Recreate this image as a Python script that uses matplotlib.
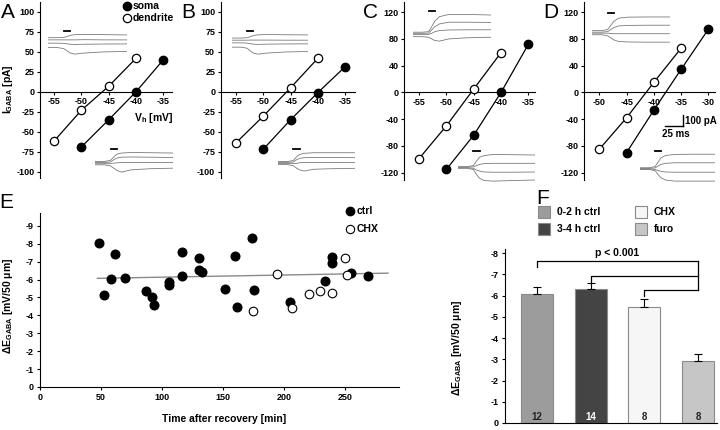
import matplotlib
matplotlib.use("Agg")
import matplotlib.pyplot as plt
from matplotlib.patches import Rectangle

plt.rcParams['font.family'] = ['Liberation Sans', 'DejaVu Sans']
plt.rcParams['font.weight'] = 'bold'
plt.rcParams['axes.unicode_minus'] = False
plt.rcParams['mathtext.default'] = 'regular'

W, H = 720, 430

# ---------------- I-V curves (A-D) ----------------
vh_dend_A = [-55, -50, -45, -40]
i_dend_A = [-61.5, -23, 7, 42]
vh_soma_A = [-50, -45, -40, -35]
i_soma_A = [-69, -35, 0, 40]

vh_dend_B = [-55, -50, -45, -40]
i_dend_B = [-64, -30.5, 5, 42]
vh_soma_B = [-50, -45, -40, -35]
i_soma_B = [-72, -35, -1, 31.5]

vh_dend_C = [-55, -50, -45, -40]
i_dend_C = [-99, -50, 5, 59.5]
vh_soma_C = [-50, -45, -40, -35]
i_soma_C = [-115, -64, 0, 72]

vh_dend_D = [-50, -45, -40, -35]
i_dend_D = [-85, -38, 15, 66]
vh_soma_D = [-45, -40, -35, -30]
i_soma_D = [-90, -26.5, 34.5, 94.5]

# example current traces (pA, arbitrary offset) at these time points (% of sweep)
t_trace = [0, 12, 20, 24, 28, 34, 46, 70, 100]
stim_t = [20, 28]
tr_A_top = [[90, 90, 92, 100, 110, 118, 120, 118, 115],
            [70, 70, 70, 70, 70, 70, 72, 70, 70],
            [40, 40, 38, 34, 30, 28, 30, 32, 33],
            [0, 0, -10, -30, -50, -60, -50, -40, -35]]
tr_A_bot = [[20, 20, 30, 60, 85, 95, 100, 98, 95],
            [10, 10, 15, 35, 50, 58, 60, 58, 55],
            [0, 0, 0, 5, 8, 10, 10, 10, 10],
            [-10, -10, -20, -40, -60, -75, -55, -45, -40]]
tr_B_top = [[85, 85, 88, 98, 108, 115, 118, 116, 114],
            [65, 65, 65, 66, 66, 66, 66, 65, 65],
            [40, 40, 38, 33, 28, 26, 28, 30, 31],
            [0, 0, -10, -35, -55, -65, -55, -45, -40]]
tr_B_bot = [[15, 15, 25, 55, 75, 85, 90, 90, 90],
            [8, 8, 12, 30, 42, 48, 50, 50, 48],
            [0, 0, -2, 0, 5, 8, 8, 8, 8],
            [-10, -10, -20, -40, -55, -65, -50, -45, -42]]
tr_C_top = [[40, 40, 45, 90, 140, 180, 200, 200, 195],
            [30, 30, 32, 60, 90, 115, 130, 130, 128],
            [20, 20, 20, 30, 45, 55, 60, 62, 62],
            [0, 0, -5, -20, -35, -40, -20, -10, -5]]
tr_C_bot = [[10, 10, 20, 60, 95, 110, 120, 118, 115],
            [5, 5, 8, 20, 30, 38, 40, 40, 40],
            [0, 0, -5, -20, -30, -38, -40, -40, -38],
            [-5, -5, -15, -60, -95, -115, -120, -115, -110]]
tr_D_top = [[40, 40, 50, 90, 130, 160, 170, 172, 172],
            [25, 25, 30, 50, 70, 85, 90, 92, 92],
            [15, 15, 15, 12, 10, 10, 10, 10, 10],
            [0, 0, -10, -30, -50, -65, -70, -72, -72]]
tr_D_bot = [[10, 10, 20, 60, 100, 120, 130, 132, 132],
            [5, 5, 8, 25, 40, 50, 55, 55, 55],
            [0, 0, -5, -15, -22, -28, -30, -30, -30],
            [-5, -5, -15, -50, -80, -100, -110, -110, -110]]

# ---------------- E: scatter ----------------
t_ctrl = [48, 52.7, 58, 61.7, 69.4, 86.7, 91.8, 93, 106, 106, 116, 116, 130, 130, 133,
          151.6, 160, 161.4, 174, 175, 205, 233, 239, 239, 255, 269]
dE_ctrl = [-8.05, -5.15, -6.03, -7.44, -6.1, -5.35, -5.04, -4.6, -5.88, -5.68, -7.54, -6.21,
           -7.19, -6.56, -6.45, -5.5, -7.32, -4.49, -8.31, -5.44, -4.74, -5.94, -7.28, -6.91,
           -6.35, -6.22]
t_chx = [174.7, 194.4, 206, 220, 229.5, 239.3, 250, 251.4]
dE_chx = [-4.26, -6.34, -4.42, -5.18, -5.35, -5.27, -7.23, -6.24]
fit_t = [47, 285]
fit_dE = [-6.07, -6.36]

# ---------------- F: bars ----------------
groups = ['0-2 h ctrl', '3-4 h ctrl', 'CHX', 'furo']
dE_mean = [-6.05, -6.29, -5.47, -2.93]
dE_sem = [0.33, 0.31, 0.35, 0.30]
n_cells = ['12', '14', '8', '8']
bar_colors = ['#9c9c9c', '#444444', '#f6f6f6', '#c6c6c6']
n_colors = ['#222222', 'white', '#222222', '#222222']

fig = plt.figure(figsize=(7.2, 4.3), dpi=100)
ov = fig.add_axes([0, 0, 1, 1])
ov.set_xlim(0, W)
ov.set_ylim(H, 0)
ov.axis('off')
ov.set_zorder(10)


def px_axes(x0, x1, y0, y1):
    ax = fig.add_axes([x0 / W, 1 - y1 / H, (x1 - x0) / W, (y1 - y0) / H])
    ax.patch.set_alpha(0)
    return ax


def iv_panel(box, xlim, ylim, xticks, yticks, vd, idd, vs, isom):
    ax = px_axes(*box)
    ax.plot(vd, idd, '-o', color='k', mfc='white', mec='k', ms=6, lw=0.9, mew=0.9,
            zorder=3, clip_on=False)
    ax.plot(vs, isom, '-o', color='k', mfc='k', ms=6, lw=0.9, zorder=3, clip_on=False)
    ax.set_xlim(xlim)
    ax.set_ylim(ylim)
    ax.spines['bottom'].set_position(('data', 0))
    ax.spines['top'].set_visible(False)
    ax.spines['right'].set_visible(False)
    ax.set_xticks(xticks)
    ax.set_yticks(yticks)
    ax.tick_params(direction='out', length=2.5, width=0.8, labelsize=6.5, pad=1.5)
    return ax


def trace_inset(box, traces, bar_y):
    ax = px_axes(*box)
    for tr in traces:
        ax.plot(t_trace, tr, color='#7a7a7a', lw=0.6)
    ax.plot(stim_t, [bar_y, bar_y], color='k', lw=1.3)
    lo = min(min(tr) for tr in traces)
    ax.set_xlim(0, 100)
    ax.set_ylim(lo - 8, bar_y + 10)
    ax.axis('off')
    return ax


iv_ticks_100 = list(range(-100, 101, 25))
iv_ticks_120 = list(range(-120, 121, 40))
axA = iv_panel((40, 172, 2, 178), (-57.6, -33.4), (-108, 112.5), [-55, -50, -45, -40, -35],
               iv_ticks_100, vh_dend_A, i_dend_A, vh_soma_A, i_soma_A)
axB = iv_panel((220.7, 355, 2, 178), (-57.8, -33.2), (-108, 112.5), [-55, -50, -45, -40, -35],
               iv_ticks_100, vh_dend_B, i_dend_B, vh_soma_B, i_soma_B)
axC = iv_panel((404.3, 535, 2, 180), (-57.7, -33.8), (-131, 135), [-55, -50, -45, -40, -35],
               iv_ticks_120, vh_dend_C, i_dend_C, vh_soma_C, i_soma_C)
axD = iv_panel((584.3, 715, 2, 180), (-52.75, -28.8), (-131, 135), [-50, -45, -40, -35, -30],
               iv_ticks_120, vh_dend_D, i_dend_D, vh_soma_D, i_soma_D)

trace_inset((48, 127, 30, 55), tr_A_top, 150)
trace_inset((95, 173, 148, 173), tr_A_bot, 130)
trace_inset((232, 308, 30, 55), tr_B_top, 150)
trace_inset((278, 355, 148, 172), tr_B_bot, 120)
trace_inset((413, 491, 10, 42), tr_C_top, 230)
trace_inset((458, 535, 150, 182), tr_C_bot, 150)
trace_inset((592, 670, 12, 43), tr_D_top, 210)
trace_inset((640, 715, 150, 182), tr_D_bot, 160)

# scale bar (D)
ov.plot([683, 683], [115, 126], color='k', lw=1)
ov.plot([665, 683], [126, 126], color='k', lw=1)
ov.text(685, 121, '100 pA', fontsize=7, va='center', ha='left')
ov.text(662, 134, '25 ms', fontsize=7, va='center', ha='left')

# labels A
ov.text(8, 89, 'I$_{GABA}$ [pA]', rotation=90, fontsize=7.5, ha='center', va='center')
ov.text(154, 118, 'V$_h$ [mV]', fontsize=7.5, ha='center', va='center')
ov.plot([127], [6], 'o', color='k', ms=6)
ov.plot([127], [18], 'o', mfc='white', mec='k', ms=6, mew=0.9)
ov.text(133, 6, 'soma', fontsize=7.5, va='center')
ov.text(133, 18, 'dendrite', fontsize=7.5, va='center')

for letter, x, y in [('A', 8, 13), ('B', 188, 13), ('C', 371, 13), ('D', 551, 13),
                     ('E', 6, 203), ('F', 543, 199)]:
    ov.text(x, y, letter, fontsize=15, fontweight='normal', ha='center', va='center')

# ---------------- E ----------------
axE = px_axes(40, 399, 213, 387)
axE.plot(fit_t, fit_dE, color='#8a8a8a', lw=1, zorder=2)
axE.plot(t_ctrl, dE_ctrl, 'o', color='k', ms=6.2, zorder=3)
axE.plot(t_chx, dE_chx, 'o', mfc='white', mec='k', ms=6.2, mew=0.8, zorder=3)
axE.set_xlim(0, 294)
axE.set_ylim(0, -9.72)
axE.set_xticks([0, 50, 100, 150, 200, 250])
axE.set_yticks(list(range(0, -10, -1)))
axE.spines['top'].set_visible(False)
axE.spines['right'].set_visible(False)
axE.tick_params(direction='out', length=2.5, width=0.8, labelsize=6.5, pad=2)
ov.text(224, 419, 'Time after recovery [min]', fontsize=7.5, ha='center', va='center')
ov.text(8, 306, '\u0394E$_{GABA}$ [mV/50 \u03bcm]', rotation=90, fontsize=7.5,
        ha='center', va='center')
ov.plot([350], [211], 'o', color='k', ms=6)
ov.plot([350], [229], 'o', mfc='white', mec='k', ms=6, mew=0.8)
ov.text(357, 211, 'ctrl', fontsize=7.5, va='center')
ov.text(357, 229, 'CHX', fontsize=7.5, va='center')

# ---------------- F ----------------
pos = [1, 2, 3, 4]
axF = px_axes(505, 717, 249, 423)
axF.bar(pos, dE_mean, width=0.6, color=bar_colors, edgecolor='#8a8a8a', lw=0.8, zorder=2)
axF.errorbar(pos, dE_mean, yerr=[dE_sem, [0] * 4], fmt='none', ecolor='k',
             elinewidth=0.8, capsize=3, capthick=0.8, zorder=3)
for p, n, c in zip(pos, n_cells, n_colors):
    axF.text(p, -0.3, n, ha='center', va='center', fontsize=7, color=c)
axF.set_xlim(0.404, 4.354)
axF.set_ylim(0, -8.19)
axF.set_xticks([])
axF.set_yticks(list(range(0, -9, -1)))
axF.spines['top'].set_visible(False)
axF.spines['right'].set_visible(False)
axF.tick_params(direction='out', length=2.5, width=0.8, labelsize=6.5, pad=2)

# significance brackets
br_kw = dict(color='k', lw=0.9, clip_on=False)
axF.plot([1, 1, 4], [-7.34, -7.62, -7.62], **br_kw)
axF.plot([2, 2, 4], [-6.64, -6.92, -6.92], **br_kw)
axF.plot([3, 3, 4], [-5.98, -6.26, -6.26], **br_kw)
axF.plot([4, 4], [-7.62, -6.26], **br_kw)
axF.text(2.5, -8.0, 'p < 0.001', ha='center', va='center', fontsize=7.5)

ov.text(457, 348, '\u0394E$_{GABA}$ [mV/50 \u03bcm]', rotation=90, fontsize=7.5,
        ha='center', va='center')

for lab, col, (x, y) in zip(groups, bar_colors, [(538, 212), (538, 229), (635, 212), (635, 229)]):
    ov.add_patch(Rectangle((x, y - 6), 12, 12, facecolor=col, edgecolor='#8a8a8a', lw=0.8))
    ov.text(x + 19, y, lab, fontsize=7.5, va='center')

fig.savefig('out.png', dpi=100)
